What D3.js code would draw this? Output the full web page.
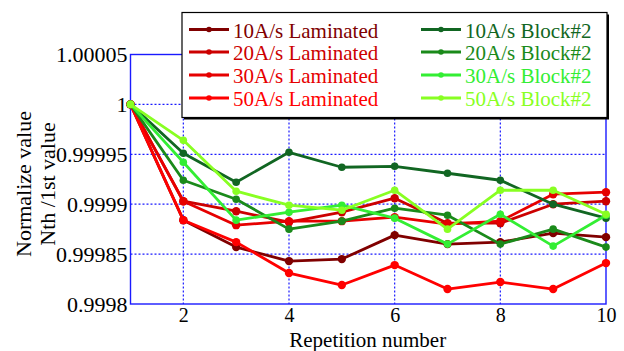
<!DOCTYPE html>
<html>
<head>
<meta charset="utf-8">
<script src="https://cdn.jsdelivr.net/npm/d3@7"></script>
<style>
  html, body { margin: 0; padding: 0; background: #ffffff; }
  svg { display: block; }
  svg text { font-family: "Liberation Serif", "DejaVu Serif", "Times New Roman", Times, serif; }
</style>
</head>
<body>
<svg id="chart" width="624" height="351"></svg>
<script>
// Repetition number on the x axis
const repetitions = [1, 2, 3, 4, 5, 6, 7, 8, 9, 10];

// Normalized value (Nth / 1st) for each ramp rate and sample
const lam10 = [1, 0.999884, 0.999857, 0.999843, 0.999845, 0.999869, 0.999860, 0.999862, 0.999871, 0.999867];
const lam20 = [1, 0.999903, 0.999893, 0.999882, 0.999892, 0.999906, 0.999881, 0.999881, 0.999900, 0.999903];
const lam30 = [1, 0.999903, 0.999879, 0.999883, 0.999883, 0.999887, 0.999880, 0.999883, 0.999910, 0.999912];
const lam50 = [1, 0.999884, 0.999862, 0.999831, 0.999819, 0.999839, 0.999815, 0.999822, 0.999815, 0.999841];
const blk10 = [1, 0.999951, 0.999922, 0.999952, 0.999937, 0.999938, 0.999931, 0.999924, 0.999900, 0.999886];
const blk20 = [1, 0.999924, 0.999905, 0.999875, 0.999883, 0.999896, 0.999889, 0.999860, 0.999875, 0.999857];
const blk30 = [1, 0.999942, 0.999884, 0.999892, 0.999899, 0.999886, 0.999860, 0.999890, 0.999858, 0.999889];
const blk50 = [1, 0.999964, 0.999913, 0.999899, 0.999894, 0.999914, 0.999875, 0.999914, 0.999914, 0.999890];

const seriesNames = [
  "10A/s Laminated", "20A/s Laminated", "30A/s Laminated", "50A/s Laminated",
  "10A/s Block#2", "20A/s Block#2", "30A/s Block#2", "50A/s Block#2"
];
const seriesValues = [lam10, lam20, lam30, lam50, blk10, blk20, blk30, blk50];
const seriesColors = [
  "#800000", "#cc0000", "#e60000", "#ff0000",
  "#116622", "#1a8a1a", "#33ee33", "#88ff22"
];

const xTicks = [2, 4, 6, 8, 10];
const yTicks = [0.9998, 0.99985, 0.9999, 0.99995, 1, 1.00005];
const yTickLabels = ["0.9998", "0.99985", "0.9999", "0.99995", "1", "1.00005"];

const serif = "'Liberation Serif', 'DejaVu Serif', 'Times New Roman', Times, serif";

const svg = d3.select("#chart");
const plotLeft = 130.5, plotRight = 606, plotTop = 54.5, plotBottom = 304;

const x = d3.scaleLinear().domain([1, 10]).range([plotLeft, plotRight]);
const y = d3.scaleLinear().domain([0.9998, 1.00005]).range([plotBottom, plotTop]);

const axisBlue = "#1a1aff";

// dotted grid lines
const grid = svg.append("g");
grid.selectAll("line.gx")
  .data(xTicks.filter(d => d < 10))
  .join("line")
  .attr("x1", d => x(d)).attr("x2", d => x(d))
  .attr("y1", plotTop).attr("y2", plotBottom)
  .attr("stroke", axisBlue).attr("stroke-width", 1.2)
  .attr("stroke-dasharray", "2,2");
grid.selectAll("line.gy")
  .data(yTicks.filter(d => d > 0.9998 && d < 1.00005))
  .join("line")
  .attr("x1", plotLeft).attr("x2", plotRight)
  .attr("y1", d => y(d)).attr("y2", d => y(d))
  .attr("stroke", axisBlue).attr("stroke-width", 1.2)
  .attr("stroke-dasharray", "2,2");

// axes
const xAxis = svg.append("g")
  .attr("transform", `translate(0,${plotBottom})`)
  .call(d3.axisBottom(x).tickValues(xTicks).tickSize(0).tickPadding(4));
const yAxis = svg.append("g")
  .attr("transform", `translate(${plotLeft},0)`)
  .call(d3.axisLeft(y).tickValues(yTicks).tickSize(0).tickPadding(3)
    .tickFormat((d, i) => yTickLabels[i]));
[xAxis, yAxis].forEach(g => {
  g.attr("font-family", serif);
  g.select(".domain").remove();
  g.selectAll("text")
    .attr("fill", "#000")
    .attr("font-family", serif);
});
xAxis.selectAll("text").style("font-size", "20px");
yAxis.selectAll("text").style("font-size", "22px");

// axes box
svg.append("rect")
  .attr("x", plotLeft).attr("y", plotTop)
  .attr("width", plotRight - plotLeft).attr("height", plotBottom - plotTop)
  .attr("fill", "none").attr("stroke", axisBlue).attr("stroke-width", 1.4);

// series lines and markers
const line = d3.line().x((d, i) => x(repetitions[i])).y(d => y(d));
const plot = svg.append("g");
seriesValues.forEach((vals, s) => {
  const g = plot.append("g");
  g.append("path")
    .datum(vals)
    .attr("d", line)
    .attr("fill", "none")
    .attr("stroke", seriesColors[s])
    .attr("stroke-width", 2.8)
    .attr("stroke-linejoin", "round");
  g.selectAll("circle")
    .data(vals)
    .join("circle")
    .attr("cx", (d, i) => x(repetitions[i]))
    .attr("cy", d => y(d))
    .attr("r", s < 4 ? 4.2 : 3.8)
    .attr("fill", seriesColors[s]);
});

// axis titles
svg.append("text")
  .attr("x", (plotLeft + plotRight) / 2 - 0.5).attr("y", 347)
  .attr("text-anchor", "middle")
  .attr("font-family", serif)
  .style("font-size", "21px")
  .text("Repetition number");
const yTitle = svg.append("text")
  .attr("transform", "translate(31,184) rotate(-90)")
  .attr("text-anchor", "middle")
  .attr("font-family", serif)
  .style("font-size", "22px");
yTitle.append("tspan").attr("x", 0).attr("dy", 0).text("Normalize value");
yTitle.append("tspan").attr("x", 0).attr("dy", 24).text("Nth /1st value");

// legend
const lg = svg.append("g");
const lx = 182, ly = 12.5, lw = 425, lh = 105;
lg.append("rect")
  .attr("x", lx + 2).attr("y", ly + 2).attr("width", lw).attr("height", lh)
  .attr("fill", "#000");
lg.append("rect")
  .attr("x", lx).attr("y", ly).attr("width", lw).attr("height", lh)
  .attr("fill", "#fff").attr("stroke", "#000").attr("stroke-width", 1.2);

const rowY = [31.5, 54, 77, 100];
const colX = [189, 421];
seriesNames.forEach((name, s) => {
  const cx = colX[Math.floor(s / 4)];
  const cy = rowY[s % 4];
  lg.append("line")
    .attr("x1", cx).attr("x2", cx + 40)
    .attr("y1", cy - 2).attr("y2", cy - 2)
    .attr("stroke", seriesColors[s]).attr("stroke-width", 2.8);
  lg.append("circle")
    .attr("cx", cx + 20).attr("cy", cy - 2).attr("r", 2.8)
    .attr("fill", seriesColors[s]);
  lg.append("text")
    .attr("x", cx + 44).attr("y", cy + 6)
    .attr("fill", seriesColors[s])
    .attr("font-family", serif)
    .style("font-size", "21px")
    .text(name);
});
</script>
</body>
</html>
